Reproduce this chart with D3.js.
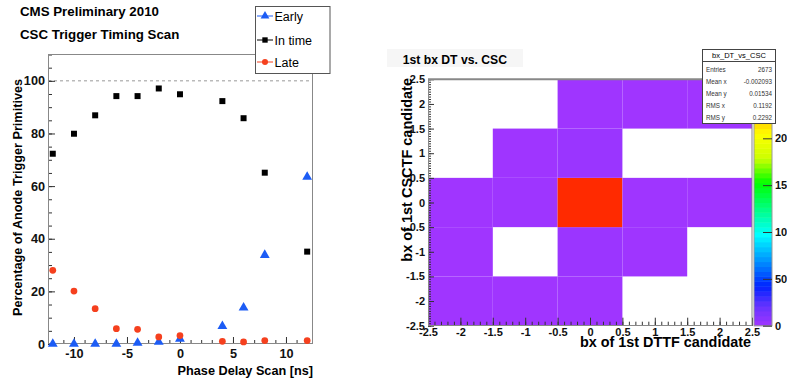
<!DOCTYPE html>
<html>
<head>
<meta charset="utf-8">
<script src="https://cdn.jsdelivr.net/npm/d3@7"></script>
<style>
  body { margin: 0; background: #fff; }
  text { font-family: "Liberation Sans", Arial, Helvetica, sans-serif; }
</style>
</head>
<body>
<script>
// ---- left: timing scan ----
const delays = [-12, -10, -8, -6, -4, -2, 0, 4, 6, 8, 12];
const early  = [0, 0, 0, 0, 0.4, 0.8, 1.9, 6.8, 13.8, 33.8, 63.5];
const inTime = [72.3, 79.9, 86.9, 94.2, 94.2, 97.1, 94.9, 92.3, 85.8, 65.1, 35.1];
const late   = [28.0, 20.1, 13.4, 5.8, 5.6, 2.7, 3.2, 1.0, 0.8, 1.3, 1.3];
const seriesNames = ["Early", "In time", "Late"];

// ---- right: 2D histogram ----
const dtBins  = [-2, -1, 0, 1, 2];
const cscBins = [-2, -1, 0, 1, 2];
// rows follow cscBins, columns follow dtBins
const counts = [
  [1, 1, 2, 0, 0],
  [1, 0, 18, 2, 0],
  [1, 6, 2609, 5, 1],
  [0, 2, 20, 0, 0],
  [0, 0, 2, 1, 1]
];
const zTicks = [0, 500, 1000, 1500, 2000];
const statNames  = ["Entries", "Mean x", "Mean y", "RMS x", "RMS y"];
const statValues = ["2673", "-0.002093", "0.01534", "0.1192", "0.2292"];

var svg = d3.select("body").append("svg")
    .attr("width", 787)
    .attr("height", 378);

var fmt = d => String(d);

function styleAxis(g, size) {
    g.select(".domain").remove();
    g.selectAll(".tick line").attr("stroke", "#333");
    g.selectAll("text")
        .attr("fill", "#111")
        .style("font-size", size + "px")
        .style("font-weight", "bold");
}

// ================= left chart =================
var x = d3.scaleLinear().domain([-12.45, 12.55]).range([48, 313]),
    y = d3.scaleLinear().domain([0, 110.2]).range([344, 54]);

svg.append("text").attr("x", 20).attr("y", 15.5)
    .style("font-size", "13.3px").style("font-weight", "bold")
    .text("CMS Preliminary 2010");
svg.append("text").attr("x", 20).attr("y", 39.3)
    .style("font-size", "13.3px").style("font-weight", "bold")
    .text("CSC Trigger Timing Scan");

svg.append("line")
    .attr("x1", x.range()[0]).attr("x2", x.range()[1])
    .attr("y1", y(100)).attr("y2", y(100))
    .attr("stroke", "#999").attr("stroke-dasharray", "3,3");

svg.append("g").attr("transform", "translate(0,344)")
    .call(d3.axisBottom(x).tickValues(d3.range(-12, 13)).tickSize(-4).tickFormat(""))
    .call(g => styleAxis(g, 12.7));
svg.append("g").attr("transform", "translate(0,344)")
    .call(d3.axisBottom(x).tickValues([-10, -5, 0, 5, 10]).tickSize(-7).tickPadding(5).tickFormat(fmt))
    .call(g => styleAxis(g, 12.7));
svg.append("g").attr("transform", "translate(48,0)")
    .call(d3.axisLeft(y).tickValues(d3.range(0, 111, 5)).tickSize(-4).tickFormat(""))
    .call(g => styleAxis(g, 12.7));
svg.append("g").attr("transform", "translate(48,0)")
    .call(d3.axisLeft(y).tickValues(d3.range(0, 101, 20)).tickSize(-7).tickPadding(3).tickFormat(fmt))
    .call(g => styleAxis(g, 12.7));

svg.append("rect")
    .attr("x", 48.5).attr("y", 54.5)
    .attr("width", 264).attr("height", 289)
    .attr("fill", "none").attr("stroke", "#888");

svg.append("text")
    .attr("x", 313).attr("y", 375)
    .attr("text-anchor", "end")
    .style("font-size", "12.7px").style("font-weight", "bold")
    .text("Phase Delay Scan [ns]");
svg.append("text")
    .attr("transform", "translate(21.5,197.5) rotate(-90)")
    .attr("text-anchor", "middle")
    .style("font-size", "12.7px").style("font-weight", "bold")
    .text("Percentage of Anode Trigger Primitives");

var series = [
    {name: seriesNames[0], values: early, color: "#1c5cf5", symbol: d3.symbolTriangle, size: 42},
    {name: seriesNames[1], values: inTime, color: "#000", symbol: d3.symbolSquare, size: 36},
    {name: seriesNames[2], values: late, color: "#f5401e", symbol: d3.symbolCircle, size: 36}
];

series.forEach(s => {
    svg.append("g").selectAll("path")
        .data(delays.map((d, i) => [d, s.values[i]]))
        .enter().append("path")
        .attr("transform", d => `translate(${x(d[0])},${y(d[1])})`)
        .attr("d", d3.symbol().type(s.symbol).size(s.size))
        .attr("fill", s.color);
});

var legend = svg.append("g");
legend.append("rect")
    .attr("x", 255.5).attr("y", 6.5).attr("width", 74.5).attr("height", 67)
    .attr("fill", "#fff").attr("stroke", "#555");
series.forEach((s, i) => {
    var ly = [16, 40, 62][i];
    legend.append("line")
        .attr("x1", 257).attr("x2", 273).attr("y1", ly).attr("y2", ly)
        .attr("stroke", s.color).attr("stroke-width", 1);
    legend.append("path")
        .attr("transform", `translate(265,${ly})`)
        .attr("d", d3.symbol().type(s.symbol).size(s.size * 0.8))
        .attr("fill", s.color);
    legend.append("text")
        .attr("x", 274.5).attr("y", ly).attr("dy", "0.36em")
        .style("font-size", "12.5px")
        .text(s.name);
});

// ================= right chart =================
var hx = d3.scaleLinear().domain([-2.5, 2.5]).range([428, 752]),
    hy = d3.scaleLinear().domain([-2.5, 2.5]).range([325.7, 79.3]),
    zMax = 2630,
    zStops = [0, 0.08, 0.16, 0.27, 0.37, 0.47, 0.58, 0.68, 0.78, 0.9, 1],
    zColors = ["#a035ff", "#6633ff", "#0022ff", "#0099ff", "#00ffff", "#00ff88",
               "#00ff00", "#ccff00", "#ffff00", "#ff8800", "#ff2200"],
    palette = d3.scaleLinear().domain(zStops.map(f => f * zMax)).range(zColors),
    zScale = d3.scaleLinear().domain([0, zMax]).range([325.7, 79.3]);

svg.append("rect")
    .attr("x", 387).attr("y", 49).attr("width", 136).attr("height", 18)
    .attr("fill", "#f6f6f6");
svg.append("text").attr("x", 402.7).attr("y", 63.5)
    .style("font-size", "12.2px").style("font-weight", "bold")
    .text("1st bx DT vs. CSC");

var cells = [];
cscBins.forEach((cy, r) => dtBins.forEach((cx, c) => {
    if (counts[r][c] > 0) cells.push({x: cx, y: cy, v: counts[r][c]});
}));

svg.append("g").selectAll("rect")
    .data(cells)
    .enter().append("rect")
    .attr("x", d => hx(d.x - 0.5))
    .attr("y", d => hy(d.y + 0.5))
    .attr("width", d => hx(d.x + 0.5) - hx(d.x - 0.5))
    .attr("height", d => hy(d.y - 0.5) - hy(d.y + 0.5))
    .attr("fill", d => palette(d.v));

var hFmt = d => String(d);
svg.append("g").attr("transform", "translate(0,325.7)")
    .call(d3.axisBottom(hx).tickValues(d3.range(-25, 26).map(d => d / 10)).tickSize(-4).tickFormat(""))
    .call(g => styleAxis(g, 11));
svg.append("g").attr("transform", "translate(0,325.7)")
    .call(d3.axisBottom(hx).tickValues(d3.range(-5, 6).map(d => d / 2)).tickSize(-8).tickPadding(2).tickFormat(hFmt))
    .call(g => styleAxis(g, 11));
svg.append("g").attr("transform", "translate(428,0)")
    .call(d3.axisLeft(hy).tickValues(d3.range(-50, 51).map(d => d / 20)).tickSize(-3).tickFormat(""))
    .call(g => styleAxis(g, 11));
svg.append("g").attr("transform", "translate(428,0)")
    .call(d3.axisLeft(hy).tickValues(d3.range(-5, 6).map(d => d / 2)).tickSize(-6).tickPadding(3).tickFormat(hFmt))
    .call(g => styleAxis(g, 11));

svg.append("rect")
    .attr("x", 428.5).attr("y", 79.5)
    .attr("width", 323.5).attr("height", 246)
    .attr("fill", "none").attr("stroke", "#888");
svg.append("line")
    .attr("x1", 428).attr("x2", 752).attr("y1", 79.3).attr("y2", 79.3)
    .attr("stroke", "#888").attr("stroke-width", 2);

svg.append("text")
    .attr("x", 751).attr("y", 346.7)
    .attr("text-anchor", "end")
    .style("font-size", "14.4px").style("font-weight", "bold")
    .text("bx of 1st DTTF candidate");
svg.append("text")
    .attr("transform", "translate(412,78) rotate(-90)")
    .attr("text-anchor", "end")
    .style("font-size", "14.5px").style("font-weight", "bold")
    .text("bx of 1st CSCTF candidate");

// colour bar
var bands = d3.range(50).map(i => [i * zMax / 50, (i + 1) * zMax / 50]);
svg.append("g").selectAll("rect")
    .data(bands)
    .enter().append("rect")
    .attr("x", 754).attr("width", 18)
    .attr("y", d => zScale(d[1]))
    .attr("height", d => zScale(d[0]) - zScale(d[1]) + 0.5)
    .attr("fill", d => palette((d[0] + d[1]) / 2));
svg.append("rect")
    .attr("x", 754).attr("y", 79.3).attr("width", 18).attr("height", 246.4)
    .attr("fill", "none").attr("stroke", "#999");
svg.append("g").attr("transform", "translate(772,0)")
    .call(d3.axisRight(zScale).tickValues(zTicks).tickSize(-9).tickPadding(3).tickFormat(fmt))
    .call(g => styleAxis(g, 11));

// stats box
var stats = svg.append("g");
stats.append("rect")
    .attr("x", 702.5).attr("y", 49.5).attr("width", 73).attr("height", 74)
    .attr("fill", "#fff").attr("stroke", "#444");
stats.append("line")
    .attr("x1", 702.5).attr("x2", 775.5).attr("y1", 61.5).attr("y2", 61.5)
    .attr("stroke", "#444");
stats.append("text")
    .attr("x", 739).attr("y", 58.3).attr("text-anchor", "middle")
    .style("font-size", "7.5px")
    .text("bx_DT_vs_CSC");
statNames.forEach((n, i) => {
    var sy = 71.8 + i * 12;
    stats.append("text").attr("x", 706).attr("y", sy)
        .style("font-size", "6.3px").attr("fill", "#333").text(n);
    stats.append("text").attr("x", 772).attr("y", sy)
        .attr("text-anchor", "end")
        .style("font-size", "6.3px").attr("fill", "#333").text(statValues[i]);
});
</script>
</body>
</html>
